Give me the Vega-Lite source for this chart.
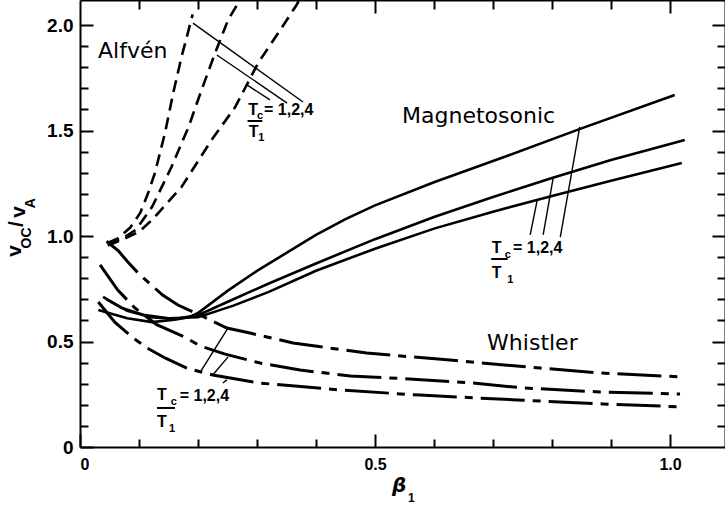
{
"$schema":"https://vega.github.io/schema/vega-lite/v6.json",
"width":645,"height":447,
"autosize":{"type":"none"},
"padding":{"left":80,"top":0,"right":0,"bottom":59},
"background":"white",
"config":{"view":{"stroke":null},"font":"DejaVu Sans"},
"resolve":{"axis":{"x":"independent","y":"independent"}},
"datasets":{
"curves":[
{"g":"A","k":"a1","b":0.047,"v":0.967},{"g":"A","k":"a1","b":0.065,"v":0.99},{"g":"A","k":"a1","b":0.085,"v":1.04},{"g":"A","k":"a1","b":0.102,"v":1.109},{"g":"A","k":"a1","b":0.115,"v":1.2},{"g":"A","k":"a1","b":0.127,"v":1.299},{"g":"A","k":"a1","b":0.144,"v":1.488},{"g":"A","k":"a1","b":0.158,"v":1.678},{"g":"A","k":"a1","b":0.172,"v":1.848},{"g":"A","k":"a1","b":0.191,"v":2.05},
{"g":"A","k":"a2","b":0.047,"v":0.965},{"g":"A","k":"a2","b":0.07,"v":0.985},{"g":"A","k":"a2","b":0.095,"v":1.03},{"g":"A","k":"a2","b":0.122,"v":1.137},{"g":"A","k":"a2","b":0.155,"v":1.327},{"g":"A","k":"a2","b":0.184,"v":1.517},{"g":"A","k":"a2","b":0.206,"v":1.692},{"g":"A","k":"a2","b":0.229,"v":1.867},{"g":"A","k":"a2","b":0.251,"v":2.024},{"g":"A","k":"a2","b":0.271,"v":2.118},{"g":"A","k":"a2","b":0.28,"v":2.18},
{"g":"A","k":"a3","b":0.047,"v":0.955},{"g":"A","k":"a3","b":0.071,"v":0.981},{"g":"A","k":"a3","b":0.1,"v":1.02},{"g":"A","k":"a3","b":0.122,"v":1.076},{"g":"A","k":"a3","b":0.172,"v":1.232},{"g":"A","k":"a3","b":0.223,"v":1.455},{"g":"A","k":"a3","b":0.263,"v":1.611},{"g":"A","k":"a3","b":0.302,"v":1.82},{"g":"A","k":"a3","b":0.336,"v":1.962},{"g":"A","k":"a3","b":0.367,"v":2.095},{"g":"A","k":"a3","b":0.38,"v":2.16},
{"g":"M","k":"m1","b":0.031,"v":0.649},{"g":"M","k":"m1","b":0.08,"v":0.61},{"g":"M","k":"m1","b":0.122,"v":0.592},{"g":"M","k":"m1","b":0.16,"v":0.603},{"g":"M","k":"m1","b":0.185,"v":0.615},{"g":"M","k":"m1","b":0.2,"v":0.635},{"g":"M","k":"m1","b":0.25,"v":0.74},{"g":"M","k":"m1","b":0.3,"v":0.835},{"g":"M","k":"m1","b":0.35,"v":0.92},{"g":"M","k":"m1","b":0.4,"v":1.005},{"g":"M","k":"m1","b":0.45,"v":1.08},{"g":"M","k":"m1","b":0.5,"v":1.145},{"g":"M","k":"m1","b":0.6,"v":1.255},{"g":"M","k":"m1","b":0.7,"v":1.355},{"g":"M","k":"m1","b":0.85,"v":1.51},{"g":"M","k":"m1","b":1.008,"v":1.668},
{"g":"M","k":"m2","b":0.039,"v":0.711},{"g":"M","k":"m2","b":0.08,"v":0.645},{"g":"M","k":"m2","b":0.12,"v":0.615},{"g":"M","k":"m2","b":0.16,"v":0.607},{"g":"M","k":"m2","b":0.2,"v":0.625},{"g":"M","k":"m2","b":0.26,"v":0.7},{"g":"M","k":"m2","b":0.32,"v":0.775},{"g":"M","k":"m2","b":0.4,"v":0.87},{"g":"M","k":"m2","b":0.5,"v":0.985},{"g":"M","k":"m2","b":0.6,"v":1.09},{"g":"M","k":"m2","b":0.7,"v":1.185},{"g":"M","k":"m2","b":0.8,"v":1.275},{"g":"M","k":"m2","b":0.9,"v":1.36},{"g":"M","k":"m2","b":1.025,"v":1.455},
{"g":"M","k":"m3","b":0.045,"v":0.7},{"g":"M","k":"m3","b":0.07,"v":0.66},{"g":"M","k":"m3","b":0.11,"v":0.625},{"g":"M","k":"m3","b":0.15,"v":0.61},{"g":"M","k":"m3","b":0.2,"v":0.615},{"g":"M","k":"m3","b":0.26,"v":0.67},{"g":"M","k":"m3","b":0.32,"v":0.735},{"g":"M","k":"m3","b":0.4,"v":0.835},{"g":"M","k":"m3","b":0.5,"v":0.94},{"g":"M","k":"m3","b":0.6,"v":1.035},{"g":"M","k":"m3","b":0.7,"v":1.115},{"g":"M","k":"m3","b":0.8,"v":1.19},{"g":"M","k":"m3","b":0.9,"v":1.262},{"g":"M","k":"m3","b":1.02,"v":1.346},
{"g":"W","k":"w1","b":0.045,"v":0.975},{"g":"W","k":"w1","b":0.065,"v":0.93},{"g":"W","k":"w1","b":0.08,"v":0.88},{"g":"W","k":"w1","b":0.1,"v":0.82},{"g":"W","k":"w1","b":0.12,"v":0.77},{"g":"W","k":"w1","b":0.14,"v":0.72},{"g":"W","k":"w1","b":0.166,"v":0.673},{"g":"W","k":"w1","b":0.203,"v":0.626},{"g":"W","k":"w1","b":0.249,"v":0.564},{"g":"W","k":"w1","b":0.288,"v":0.54},{"g":"W","k":"w1","b":0.361,"v":0.493},{"g":"W","k":"w1","b":0.486,"v":0.445},{"g":"W","k":"w1","b":0.627,"v":0.412},{"g":"W","k":"w1","b":0.78,"v":0.374},{"g":"W","k":"w1","b":0.881,"v":0.351},{"g":"W","k":"w1","b":1.022,"v":0.332},
{"g":"W","k":"w2","b":0.034,"v":0.863},{"g":"W","k":"w2","b":0.064,"v":0.744},{"g":"W","k":"w2","b":0.093,"v":0.659},{"g":"W","k":"w2","b":0.13,"v":0.58},{"g":"W","k":"w2","b":0.178,"v":0.52},{"g":"W","k":"w2","b":0.203,"v":0.48},{"g":"W","k":"w2","b":0.246,"v":0.44},{"g":"W","k":"w2","b":0.305,"v":0.398},{"g":"W","k":"w2","b":0.373,"v":0.365},{"g":"W","k":"w2","b":0.458,"v":0.336},{"g":"W","k":"w2","b":0.542,"v":0.325},{"g":"W","k":"w2","b":0.666,"v":0.303},{"g":"W","k":"w2","b":0.751,"v":0.28},{"g":"W","k":"w2","b":0.881,"v":0.261},{"g":"W","k":"w2","b":1.017,"v":0.251},
{"g":"W","k":"w3","b":0.031,"v":0.687},{"g":"W","k":"w3","b":0.059,"v":0.592},{"g":"W","k":"w3","b":0.088,"v":0.521},{"g":"W","k":"w3","b":0.114,"v":0.469},{"g":"W","k":"w3","b":0.144,"v":0.422},{"g":"W","k":"w3","b":0.181,"v":0.374},{"g":"W","k":"w3","b":0.225,"v":0.341},{"g":"W","k":"w3","b":0.305,"v":0.303},{"g":"W","k":"w3","b":0.441,"v":0.27},{"g":"W","k":"w3","b":0.576,"v":0.246},{"g":"W","k":"w3","b":0.741,"v":0.223},{"g":"W","k":"w3","b":0.886,"v":0.204},{"g":"W","k":"w3","b":1.022,"v":0.19}
],
"arrows":[
{"b":0.1915,"v":2.009,"b2":0.378,"v2":1.635},{"b":0.232,"v":1.858,"b2":0.351,"v2":1.63},{"b":0.283,"v":1.716,"b2":0.322,"v2":1.645},
{"b":0.763,"v":1.005,"b2":0.775,"v2":1.171},{"b":0.785,"v":1.005,"b2":0.802,"v2":1.275},{"b":0.814,"v":0.995,"b2":0.847,"v2":1.517},
{"b":0.203,"v":0.351,"b2":0.251,"v2":0.564},{"b":0.225,"v":0.341,"b2":0.251,"v2":0.427},{"b":0.242,"v":0.303,"b2":0.249,"v2":0.318}
],
"bars":[{"b":0.284,"b2":0.309,"v":1.545},{"b":0.697,"b2":0.725,"v":0.891},{"b":0.1305,"b2":0.161,"v":0.185}],
"names":[{"t":"Alfvén","b":0.0305,"v":1.844},{"t":"Magnetosonic","b":0.5458,"v":1.536},{"t":"Whistler","b":0.69,"v":0.46}],
"frac":[{"t":"T","b":0.285,"v":1.573},{"t":"= 1,2,4","b":0.312,"v":1.573},{"t":"T","b":0.286,"v":1.469},
{"t":"T","b":0.698,"v":0.919},{"t":"= 1,2,4","b":0.734,"v":0.919},{"t":"T","b":0.698,"v":0.801},
{"t":"T","b":0.1305,"v":0.223},{"t":"= 1,2,4","b":0.169,"v":0.218},{"t":"T","b":0.1305,"v":0.095}],
"fracsub":[{"t":"c","b":0.3,"v":1.555},{"t":"1","b":0.302,"v":1.45},{"t":"c","b":0.72,"v":0.896},{"t":"1","b":0.724,"v":0.777},{"t":"c","b":0.154,"v":0.199},{"t":"1","b":0.151,"v":0.071}],
"ytbig":[{"t":"v","b":-0.11,"v":0.929},{"t":"/","b":-0.1068,"v":1.057},{"t":"v","b":-0.1034,"v":1.114}],
"ytsmall":[{"t":"OC","b":-0.0898,"v":0.9905},{"t":"A","b":-0.0831,"v":1.156}],
"xtbig":[{"t":"β","b":0.5288,"v":-0.213}],
"xtsmall":[{"t":"1","b":0.556,"v":-0.261}]
},
"layer":[
{"data":{"name":"curves"},"transform":[{"filter":"datum.g=='A'"}],
 "mark":{"type":"line","color":"black","strokeWidth":2.6,"strokeDash":[12,7],"clip":true},
 "encoding":{
  "x":{"field":"b","type":"quantitative","scale":{"domain":[0,1.0932],"nice":false,"zero":false},
   "axis":{"orient":"bottom","values":[0,0.5,1],"ticks":false,"domain":true,"domainColor":"black","domainWidth":2,"grid":false,"title":null,"labelExpr":"datum.value == 0 ? '0' : format(datum.value, '.1f')","labelFont":"Liberation Sans","labelFontWeight":"bold","labelFontSize":16,"labelColor":"black","labelPadding":9}},
  "y":{"field":"v","type":"quantitative","scale":{"domain":[0,2.1185],"nice":false,"zero":false},
   "axis":{"orient":"left","values":[0,0.5,1,1.5,2],"ticks":false,"domain":true,"domainColor":"black","domainWidth":2,"grid":false,"title":null,"labelExpr":"datum.value == 0 ? '0' : format(datum.value, '.1f')","labelFont":"Liberation Sans","labelFontWeight":"bold","labelFontSize":19,"labelColor":"black","labelPadding":7}},
  "detail":{"field":"k"}}},
{"data":{"name":"curves"},"transform":[{"filter":"datum.g=='M'"}],
 "mark":{"type":"line","color":"black","strokeWidth":2.6,"clip":true},
 "encoding":{
  "x":{"field":"b","type":"quantitative","scale":{"domain":[0,1.0932],"nice":false,"zero":false},
   "axis":{"orient":"bottom","offset":-13,"values":[0,0.5,1],"ticks":true,"tickSize":13,"tickWidth":2,"tickColor":"black","labels":false,"domain":false,"grid":false,"title":null}},
  "y":{"field":"v","type":"quantitative","scale":{"domain":[0,2.1185],"nice":false,"zero":false},
   "axis":{"orient":"left","offset":-13,"values":[0,0.5,1,1.5,2],"ticks":true,"tickSize":13,"tickWidth":2,"tickColor":"black","labels":false,"domain":false,"grid":false,"title":null}},
  "detail":{"field":"k"}}},
{"data":{"name":"curves"},"transform":[{"filter":"datum.g=='W'"}],
 "mark":{"type":"line","color":"black","strokeWidth":3,"strokeDash":[44,8,8,8],"clip":true},
 "encoding":{
  "x":{"field":"b","type":"quantitative","scale":{"domain":[0,1.0932],"nice":false,"zero":false},
   "axis":{"orient":"bottom","offset":-8,"values":[0.1,0.2,0.3,0.4,0.6,0.7,0.8,0.9],"ticks":true,"tickSize":8,"tickWidth":2,"tickColor":"black","labels":false,"domain":false,"grid":false,"title":null}},
  "y":{"field":"v","type":"quantitative","scale":{"domain":[0,2.1185],"nice":false,"zero":false},
   "axis":{"orient":"left","offset":-8,"values":[0.1,0.2,0.3,0.4,0.6,0.7,0.8,0.9,1.1,1.2,1.3,1.4,1.6,1.7,1.8,1.9],"ticks":true,"tickSize":8,"tickWidth":2,"tickColor":"black","labels":false,"domain":false,"grid":false,"title":null}},
  "detail":{"field":"k"}}},
{"data":{"name":"arrows"},
 "mark":{"type":"rule","color":"black","strokeWidth":1.4},
 "encoding":{
  "x":{"field":"b","type":"quantitative","scale":{"domain":[0,1.0932],"nice":false,"zero":false},
   "axis":{"orient":"top","offset":-13,"values":[0.5,1],"ticks":true,"tickSize":13,"tickWidth":2,"tickColor":"black","labels":false,"domain":false,"grid":false,"title":null}},
  "y":{"field":"v","type":"quantitative","scale":{"domain":[0,2.1185],"nice":false,"zero":false},
   "axis":{"orient":"right","offset":-13,"values":[0.5,1,1.5,2],"ticks":true,"tickSize":13,"tickWidth":2,"tickColor":"black","labels":false,"domain":false,"grid":false,"title":null}},
  "x2":{"field":"b2"},"y2":{"field":"v2"}}},
{"data":{"name":"bars"},
 "mark":{"type":"rule","color":"black","strokeWidth":2},
 "encoding":{
  "x":{"field":"b","type":"quantitative","scale":{"domain":[0,1.0932],"nice":false,"zero":false},
   "axis":{"orient":"top","offset":-9,"values":[0.1,0.2,0.3,0.4,0.6,0.7,0.8,0.9],"ticks":true,"tickSize":9,"tickWidth":2,"tickColor":"black","labels":false,"domain":false,"grid":false,"title":null}},
  "y":{"field":"v","type":"quantitative","scale":{"domain":[0,2.1185],"nice":false,"zero":false},
   "axis":{"orient":"right","offset":-8,"values":[0.1,0.2,0.3,0.4,0.6,0.7,0.8,0.9,1.1,1.2,1.3,1.4,1.6,1.7,1.8,1.9],"ticks":true,"tickSize":8,"tickWidth":2,"tickColor":"black","labels":false,"domain":false,"grid":false,"title":null}},
  "x2":{"field":"b2"}}},
{"data":{"name":"names"},
 "mark":{"type":"text","align":"left","baseline":"alphabetic","fontSize":22,"font":"DejaVu Sans","color":"black"},
 "encoding":{"x":{"field":"b","type":"quantitative","scale":{"domain":[0,1.0932],"nice":false,"zero":false},
   "axis":{"orient":"top","ticks":false,"labels":false,"domain":true,"domainColor":"black","domainWidth":2,"grid":false,"title":null}},
  "y":{"field":"v","type":"quantitative","scale":{"domain":[0,2.1185],"nice":false,"zero":false},
   "axis":{"orient":"right","ticks":false,"labels":false,"domain":true,"domainColor":"black","domainWidth":2,"grid":false,"title":null}},
  "text":{"field":"t"}}},
{"data":{"name":"frac"},
 "mark":{"type":"text","align":"left","baseline":"alphabetic","fontSize":16,"fontWeight":"bold","font":"Liberation Sans","color":"black"},
 "encoding":{"x":{"field":"b","type":"quantitative","axis":null,"scale":{"domain":[0,1.0932],"nice":false,"zero":false}},"y":{"field":"v","type":"quantitative","axis":null,"scale":{"domain":[0,2.1185],"nice":false,"zero":false}},"text":{"field":"t"}}},
{"data":{"name":"fracsub"},
 "mark":{"type":"text","align":"left","baseline":"alphabetic","fontSize":11,"fontWeight":"bold","font":"Liberation Sans","color":"black"},
 "encoding":{"x":{"field":"b","type":"quantitative","axis":null,"scale":{"domain":[0,1.0932],"nice":false,"zero":false}},"y":{"field":"v","type":"quantitative","axis":null,"scale":{"domain":[0,2.1185],"nice":false,"zero":false}},"text":{"field":"t"}}},
{"data":{"name":"ytbig"},
 "mark":{"type":"text","align":"center","baseline":"middle","angle":270,"fontSize":21,"fontWeight":"bold","font":"Liberation Sans","color":"black"},
 "encoding":{"x":{"field":"b","type":"quantitative","axis":null,"scale":{"domain":[0,1.0932],"nice":false,"zero":false}},"y":{"field":"v","type":"quantitative","axis":null,"scale":{"domain":[0,2.1185],"nice":false,"zero":false}},"text":{"field":"t"}}},
{"data":{"name":"ytsmall"},
 "mark":{"type":"text","align":"center","baseline":"middle","angle":270,"fontSize":14,"fontWeight":"bold","font":"Liberation Sans","color":"black"},
 "encoding":{"x":{"field":"b","type":"quantitative","axis":null,"scale":{"domain":[0,1.0932],"nice":false,"zero":false}},"y":{"field":"v","type":"quantitative","axis":null,"scale":{"domain":[0,2.1185],"nice":false,"zero":false}},"text":{"field":"t"}}},
{"data":{"name":"xtbig"},
 "mark":{"type":"text","align":"left","baseline":"alphabetic","fontSize":20,"fontWeight":"bold","fontStyle":"italic","font":"DejaVu Sans","color":"black"},
 "encoding":{"x":{"field":"b","type":"quantitative","axis":null,"scale":{"domain":[0,1.0932],"nice":false,"zero":false}},"y":{"field":"v","type":"quantitative","axis":null,"scale":{"domain":[0,2.1185],"nice":false,"zero":false}},"text":{"field":"t"}}},
{"data":{"name":"xtsmall"},
 "mark":{"type":"text","align":"left","baseline":"alphabetic","fontSize":12,"fontWeight":"bold","font":"Liberation Sans","color":"black"},
 "encoding":{"x":{"field":"b","type":"quantitative","axis":null,"scale":{"domain":[0,1.0932],"nice":false,"zero":false}},"y":{"field":"v","type":"quantitative","axis":null,"scale":{"domain":[0,2.1185],"nice":false,"zero":false}},"text":{"field":"t"}}}
]
}
